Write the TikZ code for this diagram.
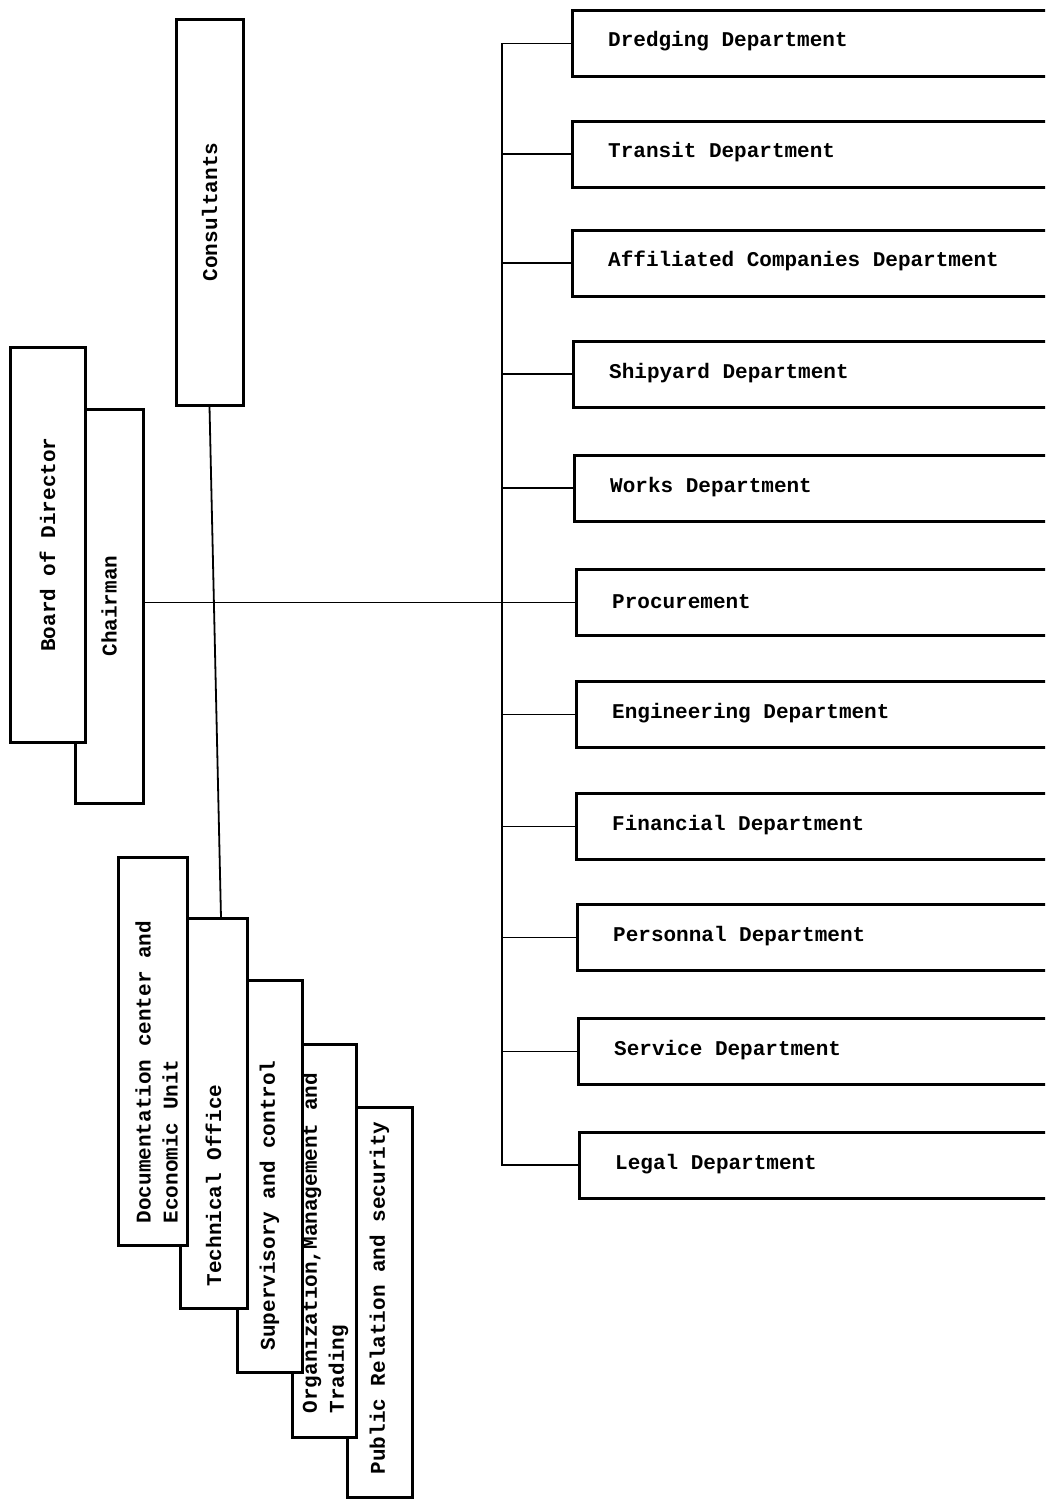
\documentclass[tikz,border=0pt]{standalone}
\usepackage{fontspec}
\usetikzlibrary{calc}
\newfontfamily\dotfont{Liberation Mono}
\newcommand\dotsize{\fontsize{21}{27}\selectfont\fontdimen2\font=12.6pt\fontdimen3\font=0pt\fontdimen4\font=0pt}
\begin{document}
\begin{tikzpicture}[x=1pt,y=-1pt,
  txt/.style={font=\dotfont\bfseries\dotsize},
  vbox/.style={txt,draw,line width=3pt,fill=white,inner sep=0pt,rotate=90},
  cbox/.style={vbox,align=center},
  vtext/.style={txt,rotate=90,inner sep=0pt,align=left,anchor=west},
  dept/.style={draw,line width=3pt,fill=white,anchor=west,minimum height=66pt,
               minimum width=520pt,inner sep=0pt},
  htext/.style={txt,inner sep=0pt,anchor=west},
  link/.style={line width=1.8pt}]
\clip (0,0) rectangle (1045,1500);
\fill[white] (0,0) rectangle (1045,1500);

% department boxes
\node[dept] (d1)  at (571,43.5)  {};
\node[dept] (d2)  at (571,154)   {};
\node[dept] (d3)  at (571,263)   {};
\node[dept] (d4)  at (572,374)   {};
\node[dept] (d5)  at (573,488)   {};
\node[dept] (d6)  at (575,602.5) {};
\node[dept] (d7)  at (575,714.5) {};
\node[dept] (d8)  at (575,826.5) {};
\node[dept] (d9)  at (576,937.5) {};
\node[dept] (d10) at (577,1051.5){};
\node[dept] (d11) at (578,1165)  {};
\node[htext] (t1)  at ($(d1.west)+(37,-2)$)  {Dredging Department};
\node[htext] (t2)  at ($(d2.west)+(37,-2)$)  {Transit Department};
\node[htext] (t3)  at ($(d3.west)+(37,-2)$)  {Affiliated Companies Department};
\node[htext] (t4)  at ($(d4.west)+(37,-1)$)  {Shipyard Department};
\node[htext] (t5)  at ($(d5.west)+(37,-1)$)  {Works Department};
\node[htext] (t6)  at ($(d6.west)+(37,-1)$)  {Procurement};
\node[htext] (t7)  at ($(d7.west)+(37,-1)$)  {Engineering Department};
\node[htext] (t8)  at ($(d8.west)+(37,-1)$)  {Financial Department};
\node[htext] (t9)  at ($(d9.west)+(37,-1)$)  {Personnal Department};
\node[htext] (t10) at ($(d10.west)+(37,-1)$) {Service Department};
\node[htext] (t11) at ($(d11.west)+(37,-1)$) {Legal Department};

% connectors
\coordinate (busx) at (502,0);
\draw[link] (d1.west) -- (d1.west -| busx) -- (d11.west -| busx) -- (d11.west);
\foreach \k in {2,3,4,5,7,8,9,10} \draw[link] (d\k.west -| busx) -- (d\k.west);

% upper left boxes
\node[cbox,minimum width=386pt,minimum height=67pt] (cons) at (209.5,212) {Consultants};
\coordinate (techtop) at (221,918);
\draw[link] (cons.west) -- (techtop);
\node[cbox,minimum width=394pt,minimum height=68pt] (chair) at (109,606) {Chairman};
\draw[link] (chair.south |- d6.west) -- (d6.west);
\node[cbox,minimum width=395pt,minimum height=75pt] (board) at (47.5,544.5) {Board of Director};

% lower left boxes (stacked)
\node[vbox,minimum width=390pt,minimum height=65pt] (pub) at (379.5,1302) {};
\node[vbox,minimum width=393pt,minimum height=64pt] (org) at (324,1240.5) {};
\node[vbox,minimum width=392pt,minimum height=65pt] (sup) at (269.5,1176) {};
\node[vbox,minimum width=390pt,minimum height=67pt] (tech) at (213.5,1113) {};
\node[vbox,minimum width=388pt,minimum height=69pt] (doc) at (152.5,1051) {};

% their texts
\node[vtext] (tpub)  at ($(pub.west)+(0,-24)$)  {Public Relation and security};
\node[vtext] (torg)  at ($(org.west)+(1,-25)$)  {Organization,Management and\\Trading};
\node[vtext] (tsup)  at ($(sup.west)+(0,-23)$)  {Supervisory and control};
\node[vtext] (ttech) at ($(tech.west)+(0,-23)$) {Technical Office};
\node[vtext] (tdoc)  at ($(doc.west)+(4,-23)$)  {Documentation center and\\Economic Unit};
\end{tikzpicture}
\end{document}
